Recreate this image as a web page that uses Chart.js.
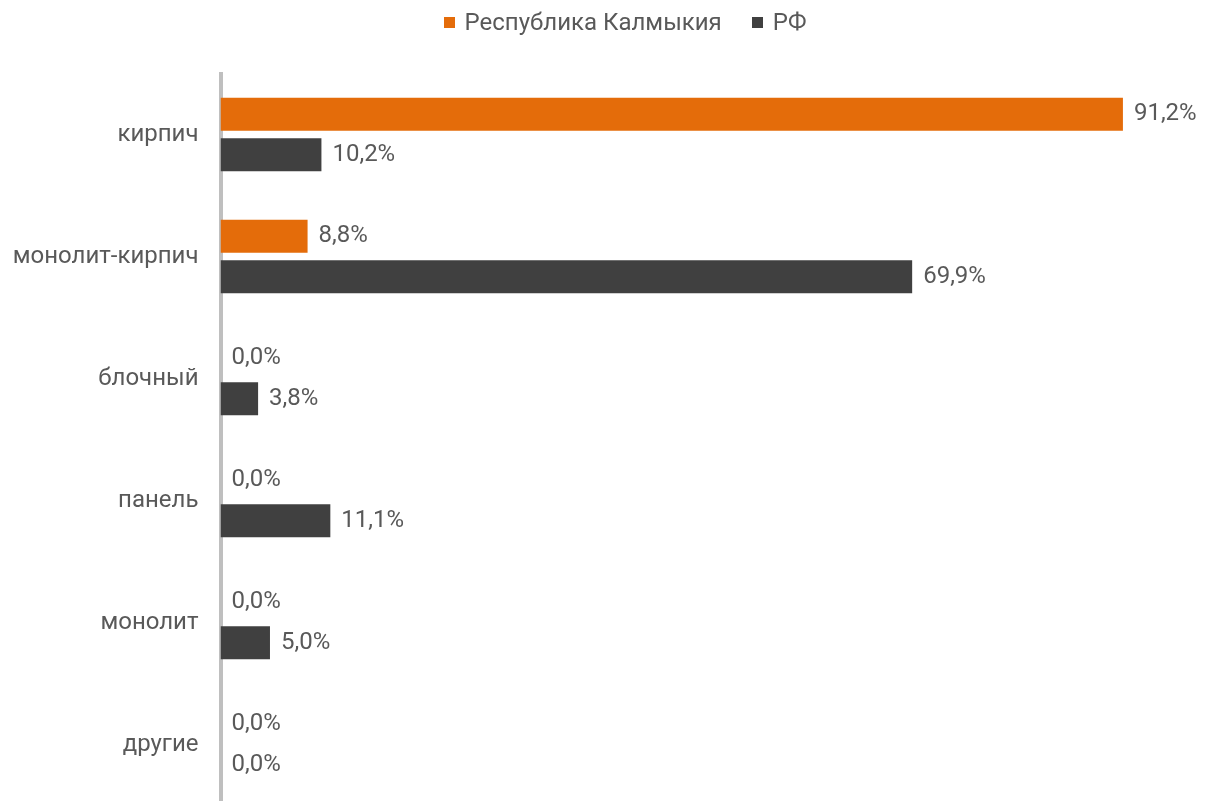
<!DOCTYPE html>
<html>
<head>
<meta charset="utf-8">
<script src="https://cdn.jsdelivr.net/npm/chart.js@4.4.1/dist/chart.umd.min.js"></script>
<style>
  html, body { margin: 0; padding: 0; background: #fff; overflow: hidden; width: 1210px; height: 801px; }
  #wrap { position: relative; width: 1210px; height: 842px; }
  #legend { position: absolute; top: 0; left: 40px; width: 1170px; height: 44px; display: flex; justify-content: center; align-items: center; font-family: Roboto, sans-serif; font-size: 24px; color: #595959; z-index: 2; }
  .item { display: flex; align-items: center; margin: 0 15px; }
  .box { width: 11px; height: 11px; margin-right: 10px; }
  canvas { position: absolute; top: 0; left: 0; }
</style>
</head>
<body>
<div id="wrap">
  <canvas id="c" width="1210" height="842"></canvas>
  <div id="legend"></div>
</div>
<script>
const categories = ['кирпич', 'монолит-кирпич', 'блочный', 'панель', 'монолит', 'другие'];
const seriesNames = ['Республика Калмыкия', 'РФ'];
const kalmykia = [91.2, 8.8, 0.0, 0.0, 0.0, 0.0];
const rf = [10.2, 69.9, 3.8, 11.1, 5.0, 0.0];
const colors = ['#E46C0A', '#404040'];

const legendEl = document.getElementById('legend');
seriesNames.forEach((n, i) => {
  const it = document.createElement('div');
  it.className = 'item';
  const b = document.createElement('div');
  b.className = 'box';
  b.style.background = colors[i];
  const t = document.createElement('span');
  t.textContent = n;
  it.appendChild(b); it.appendChild(t);
  legendEl.appendChild(it);
});

const labelPlugin = {
  id: 'valueLabels',
  afterDatasetsDraw(chart) {
    const ctx = chart.ctx;
    ctx.save();
    ctx.font = '24px Roboto, sans-serif';
    ctx.fillStyle = '#595959';
    ctx.textBaseline = 'middle';
    ctx.textAlign = 'left';
    chart.data.datasets.forEach((ds, di) => {
      const meta = chart.getDatasetMeta(di);
      meta.data.forEach((el, i) => {
        const v = ds.data[i];
        const txt = v.toFixed(1).replace('.', ',') + '%';
        ctx.fillText(txt, el.x + 11, el.y);
      });
    });
    ctx.restore();
  }
};

new Chart(document.getElementById('c'), {
  type: 'bar',
  data: {
    labels: categories,
    datasets: [
      { label: seriesNames[0], data: kalmykia, backgroundColor: colors[0], categoryPercentage: 0.664, barPercentage: 0.815 },
      { label: seriesNames[1], data: rf, backgroundColor: colors[1], categoryPercentage: 0.664, barPercentage: 0.815 }
    ]
  },
  options: {
    indexAxis: 'y',
    responsive: false,
    maintainAspectRatio: false,
    animation: false,
    layout: { padding: { top: 73.5, left: 0, right: 0, bottom: 0 } },
    plugins: { legend: { display: false }, tooltip: { enabled: false } },
    scales: {
      x: { display: false, min: 0, max: 100 },
      y: {
        z: 1,
        grid: { display: false, drawTicks: false },
        border: { display: true, color: '#bfbfbf', width: 4 },
        ticks: { color: '#595959', font: { family: 'Roboto, sans-serif', size: 24 }, padding: 22 },
        afterFit(scale) { scale.width = 220.5; }
      }
    }
  },
  plugins: [labelPlugin]
});
</script>
</body>
</html>
